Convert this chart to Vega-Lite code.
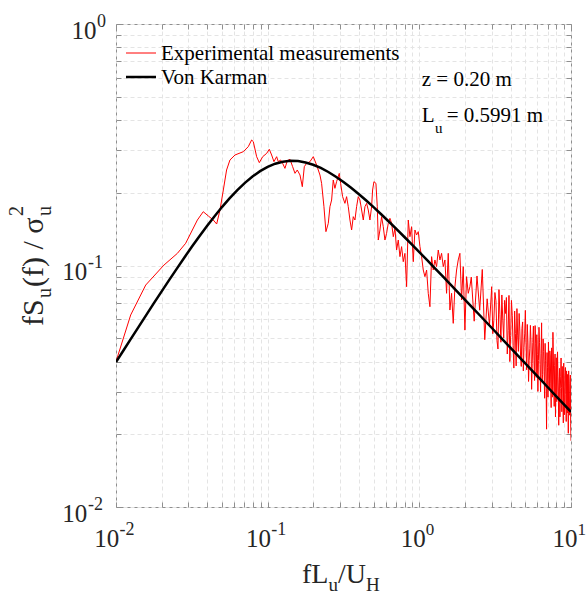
{
  "$schema": "https://vega.github.io/schema/vega-lite/v6.json",
  "width": 455,
  "height": 483,
  "autosize": {"type": "none"},
  "padding": {"left": 116, "top": 24, "right": 15, "bottom": 87},
  "background": "white",
  "config": {
    "view": {"stroke": "#8f8f8f", "strokeWidth": 1},
    "text": {"font": "Liberation Serif", "color": "#262626"}
  },
  "datasets": {
    "exp": [
      {"f":0.01,"s":0.040},{"f":0.0125,"s":0.0624},{"f":0.0157,"s":0.083},{"f":0.0207,"s":0.1004},{"f":0.0254,"s":0.1123},{"f":0.0288,"s":0.1236},{"f":0.0344,"s":0.1543},{"f":0.0376,"s":0.167},{"f":0.0408,"s":0.160},{"f":0.0438,"s":0.1543},{"f":0.0461,"s":0.1485},{"f":0.0485,"s":0.1698},{"f":0.051,"s":0.2054},{"f":0.0536,"s":0.2486},{"f":0.0564,"s":0.2734},{"f":0.0609,"s":0.2868},{"f":0.0691,"s":0.296},{"f":0.0745,"s":0.3105},{"f":0.0784,"s":0.3309},{"f":0.0804,"s":0.3257},{"f":0.0846,"s":0.2822},{"f":0.0881,"s":0.2666},{"f":0.0927,"s":0.2822},{"f":0.0985,"s":0.2913},{"f":0.1025,"s":0.3029},{"f":0.1062,"s":0.2868},{"f":0.11,"s":0.2692},{"f":0.1146,"s":0.2822},{"f":0.1175,"s":0.2692},{"f":0.1217,"s":0.2734},{"f":0.1255,"s":0.2648},{"f":0.13,"s":0.2525},{"f":0.1347,"s":0.2716},{"f":0.1403,"s":0.2752},{"f":0.1461,"s":0.2566},{"f":0.1514,"s":0.2408},{"f":0.1568,"s":0.2486},{"f":0.1633,"s":0.237},{"f":0.1692,"s":0.212},{"f":0.1744,"s":0.2566},{"f":0.1806,"s":0.2649},{"f":0.19,"s":0.2691},{"f":0.1999,"s":0.2823},{"f":0.2102,"s":0.2607},{"f":0.2212,"s":0.2369},{"f":0.2268,"s":0.2189},{"f":0.235,"s":0.1752},{"f":0.2422,"s":0.1381},{"f":0.251,"s":0.1495},{"f":0.2574,"s":0.1752},{"f":0.264,"s":0.1867},{"f":0.2707,"s":0.2259},{"f":0.2776,"s":0.2087},{"f":0.2847,"s":0.2224},{"f":0.2966,"s":0.2407},{"f":0.3027,"s":0.2189},{"f":0.312,"s":0.1928},{"f":0.3232,"s":0.1809},{"f":0.3315,"s":0.1928},{"f":0.34,"s":0.1752},{"f":0.3487,"s":0.1543},{"f":0.3577,"s":0.1403},{"f":0.3668,"s":0.1593},{"f":0.3762,"s":0.1543},{"f":0.3858,"s":0.1752},{"f":0.3957,"s":0.1928},{"f":0.4059,"s":0.1867},{"f":0.4163,"s":0.1698},{"f":0.427,"s":0.1543},{"f":0.4379,"s":0.1752},{"f":0.4491,"s":0.1809},{"f":0.4605,"s":0.1698},{"f":0.4723,"s":0.1543},{"f":0.4845,"s":0.1752},{"f":0.4919,"s":0.2054},{"f":0.5019,"s":0.2224},{"f":0.5174,"s":0.2189},{"f":0.528,"s":0.1752},{"f":0.5361,"s":0.1275},{"f":0.5499,"s":0.1403},{"f":0.5638,"s":0.1593},{"f":0.5783,"s":0.1448},{"f":0.5931,"s":0.1275},{"f":0.6083,"s":0.1359},{"f":0.624,"s":0.1495},
      {"f":0.64,"s":0.1568},{"f":0.6567,"s":0.1495},{"f":0.6734,"s":0.1316},{"f":0.6906,"s":0.1425},{"f":0.7081,"s":0.1159},{"f":0.7263,"s":0.1275},{"f":0.745,"s":0.1088},{"f":0.764,"s":0.1197},{"f":0.7835,"s":0.1037},{"f":0.8036,"s":0.1123},{"f":0.8242,"s":0.0817},{"f":0.8454,"s":0.1543},{"f":0.867,"s":0.1316},{"f":0.8892,"s":0.1448},{"f":0.912,"s":0.1037},{"f":0.9354,"s":0.1403},{"f":0.9594,"s":0.1338},{"f":0.984,"s":0.1381},{"f":1.0093,"s":0.1197},{"f":1.0351,"s":0.1088},{"f":1.0614,"s":0.0958},{"f":1.0887,"s":0.0899},{"f":1.1166,"s":0.0958},{"f":1.1452,"s":0.0767},{"f":1.1745,"s":0.0675},{"f":1.2046,"s":0.1088},{"f":1.2355,"s":0.0958},{"f":1.267,"s":0.1054},{"f":1.2995,"s":0.0989},{"f":1.3328,"s":0.1159},{"f":1.367,"s":0.1054},{"f":1.402,"s":0.1123},{"f":1.438,"s":0.0989},{"f":1.4749,"s":0.1054},{"f":1.5122,"s":0.0767},{"f":1.551,"s":0.1123},{"f":1.5908,"s":0.0654},{"f":1.6316,"s":0.0767},{"f":1.6734,"s":0.0576},{"f":1.7163,"s":0.0817},{"f":1.7603,"s":0.0958},{"f":1.805,"s":0.1054},{"f":1.8513,"s":0.1123},{"f":1.8988,"s":0.072},{"f":1.9475,"s":0.0989},{"f":1.9974,"s":0.054},{"f":2.0486,"s":0.0899},{"f":2.1012,"s":0.0767},{"f":2.155,"s":0.0817},
      {"f":2.2,"s":0.0895},{"f":2.3,"s":0.0588},{"f":2.4,"s":0.0905},{"f":2.5,"s":0.0653},{"f":2.6,"s":0.0963},{"f":2.7,"s":0.0493},{"f":2.8,"s":0.0728},{"f":2.9,"s":0.0565},{"f":3.0,"s":0.0817},{"f":3.05,"s":0.0522},{"f":3.1,"s":0.0593},{"f":3.15,"s":0.0773},{"f":3.2,"s":0.0714},{"f":3.25,"s":0.0489},{"f":3.3,"s":0.0451},{"f":3.35,"s":0.0795},{"f":3.4,"s":0.0625},{"f":3.45,"s":0.0481},{"f":3.5,"s":0.0755},{"f":3.55,"s":0.0594},{"f":3.6,"s":0.0501},{"f":3.65,"s":0.0717},{"f":3.7,"s":0.0633},{"f":3.75,"s":0.0737},{"f":3.8,"s":0.043},{"f":3.85,"s":0.0537},{"f":3.9,"s":0.0752},{"f":3.95,"s":0.04},{"f":4.0,"s":0.0512},{"f":4.05,"s":0.0717},{"f":4.1,"s":0.0619},{"f":4.15,"s":0.0466},{"f":4.2,"s":0.0376},{"f":4.25,"s":0.0648},{"f":4.3,"s":0.0522},{"f":4.35,"s":0.0384},{"f":4.4,"s":0.0663},{"f":4.45,"s":0.0511},{"f":4.5,"s":0.0441},{"f":4.55,"s":0.0633},{"f":4.6,"s":0.0535},{"f":4.65,"s":0.0422},{"f":4.7,"s":0.0382},{"f":4.75,"s":0.0548},{"f":4.8,"s":0.0584},{"f":4.85,"s":0.0366},{"f":4.9,"s":0.0457},{"f":4.95,"s":0.0521},{"f":5.0,"s":0.0652},{"f":5.05,"s":0.048},{"f":5.1,"s":0.037},{"f":5.15,"s":0.057},{"f":5.2,"s":0.0482},{"f":5.25,"s":0.0331},{"f":5.3,"s":0.0405},{"f":5.35,"s":0.0452},{"f":5.4,"s":0.0565},{"f":5.45,"s":0.0478},{"f":5.5,"s":0.0307},{"f":5.55,"s":0.0393},{"f":5.6,"s":0.048},{"f":5.65,"s":0.0561},{"f":5.7,"s":0.0404},{"f":5.75,"s":0.0334},{"f":5.8,"s":0.0564},{"f":5.85,"s":0.0477},{"f":5.9,"s":0.0344},{"f":5.95,"s":0.0517},{"f":6.0,"s":0.0428},{"f":6.05,"s":0.0301},{"f":6.1,"s":0.0405},{"f":6.15,"s":0.0555},{"f":6.2,"s":0.0481},{"f":6.25,"s":0.0389},{"f":6.3,"s":0.03},{"f":6.35,"s":0.0432},{"f":6.4,"s":0.0579},{"f":6.45,"s":0.0332},{"f":6.5,"s":0.0354},{"f":6.55,"s":0.0497},{"f":6.6,"s":0.0441},{"f":6.65,"s":0.0365},{"f":6.7,"s":0.0282},{"f":6.75,"s":0.0476},{"f":6.8,"s":0.0403},{"f":6.85,"s":0.0334},{"f":6.9,"s":0.021},{"f":6.95,"s":0.0436},{"f":7.0,"s":0.0378},{"f":7.05,"s":0.0285},{"f":7.1,"s":0.0482},{"f":7.15,"s":0.0381},{"f":7.2,"s":0.0308},{"f":7.25,"s":0.0443},{"f":7.3,"s":0.0422},{"f":7.35,"s":0.0326},{"f":7.4,"s":0.0258},{"f":7.45,"s":0.0456},{"f":7.5,"s":0.0386},{"f":7.55,"s":0.0285},{"f":7.6,"s":0.0529},{"f":7.65,"s":0.0418},{"f":7.7,"s":0.0323},{"f":7.75,"s":0.0261},{"f":7.8,"s":0.0385},{"f":7.85,"s":0.043},{"f":7.9,"s":0.0236},{"f":7.95,"s":0.0339},{"f":8.0,"s":0.0415},{"f":8.05,"s":0.0273},{"f":8.1,"s":0.0298},{"f":8.15,"s":0.0439},{"f":8.2,"s":0.0348},{"f":8.25,"s":0.0302},{"f":8.3,"s":0.0218},{"f":8.35,"s":0.0328},{"f":8.4,"s":0.0375},{"f":8.45,"s":0.0236},{"f":8.5,"s":0.031},{"f":8.55,"s":0.0346},{"f":8.6,"s":0.0414},{"f":8.65,"s":0.0313},{"f":8.7,"s":0.0248},{"f":8.75,"s":0.0382},{"f":8.8,"s":0.0339},{"f":8.85,"s":0.0294},{"f":8.9,"s":0.0223},{"f":8.95,"s":0.0394},{"f":9.0,"s":0.035},{"f":9.05,"s":0.0241},{"f":9.1,"s":0.027},{"f":9.15,"s":0.0354},{"f":9.2,"s":0.0378},{"f":9.25,"s":0.0292},{"f":9.3,"s":0.0226},{"f":9.35,"s":0.0366},{"f":9.4,"s":0.031},{"f":9.45,"s":0.0245},{"f":9.5,"s":0.0354},{"f":9.55,"s":0.0293},{"f":9.6,"s":0.0202},{"f":9.65,"s":0.0366},{"f":9.7,"s":0.0325},{"f":9.75,"s":0.027},{"f":9.8,"s":0.024},{"f":9.85,"s":0.033},{"f":9.9,"s":0.0352},{"f":9.95,"s":0.0221},{"f":10.0,"s":0.0188}
    ],
    "vk": [
      {"f":0.01,"s":0.03978},{"f":0.01122,"s":0.04456},{"f":0.01259,"s":0.0499},{"f":0.01413,"s":0.05585},{"f":0.01585,"s":0.06247},{"f":0.01778,"s":0.06982},{"f":0.01995,"s":0.07798},{"f":0.02239,"s":0.08699},{"f":0.02512,"s":0.09688},{"f":0.02818,"s":0.10771},{"f":0.03162,"s":0.11953},{"f":0.03548,"s":0.13218},{"f":0.03981,"s":0.14574},{"f":0.04467,"s":0.16004},{"f":0.05012,"s":0.17497},{"f":0.05623,"s":0.19008},{"f":0.0631,"s":0.20518},{"f":0.07079,"s":0.21985},{"f":0.07943,"s":0.23355},{"f":0.08913,"s":0.24584},{"f":0.1,"s":0.25608},{"f":0.1122,"s":0.26393},{"f":0.1259,"s":0.26904},{"f":0.1413,"s":0.27125},{"f":0.1585,"s":0.27057},{"f":0.1778,"s":0.26717},{"f":0.1995,"s":0.26134},{"f":0.2239,"s":0.25346},{"f":0.2512,"s":0.24396},{"f":0.2818,"s":0.23323},{"f":0.3162,"s":0.22176},{"f":0.3548,"s":0.20985},{"f":0.3981,"s":0.19781},{"f":0.4467,"s":0.18579},{"f":0.5012,"s":0.17407},{"f":0.5623,"s":0.16262},{"f":0.631,"s":0.15178},{"f":0.7079,"s":0.14132},{"f":0.7943,"s":0.13154},{"f":0.8913,"s":0.12228},{"f":1,"s":0.11359},{"f":1.122,"s":0.10544},{"f":1.259,"s":0.09784},{"f":1.413,"s":0.09076},{"f":1.585,"s":0.08415},{"f":1.778,"s":0.07799},{"f":1.995,"s":0.07228},{"f":2.239,"s":0.06699},{"f":2.512,"s":0.06208},{"f":2.818,"s":0.05752},{"f":3.162,"s":0.05329},{"f":3.548,"s":0.04936},{"f":3.981,"s":0.04572},{"f":4.467,"s":0.04234},{"f":5.012,"s":0.03922},{"f":5.623,"s":0.03633},{"f":6.31,"s":0.03365},{"f":7.079,"s":0.03117},{"f":7.943,"s":0.02887},{"f":8.913,"s":0.02673},{"f":10,"s":0.02476}
    ],
    "xt1": [{"v":0.01,"b":"10","e":"-2"},{"v":0.1,"b":"10","e":"-1"}],
    "xt2": [{"v":1,"b":"10","e":"0"},{"v":10,"b":"10","e":"1"}],
    "yt1": [{"v":0.01,"b":"10","e":"-2"},{"v":0.1,"b":"10","e":"-1"}],
    "yt2": [{"v":1,"b":"10","e":"0"}]
  },
  "layer": [
    {
      "data": {"name": "exp"},
      "mark": {"type": "line", "color": "#ff0000", "strokeWidth": 1, "clip": true},
      "encoding": {
        "x": {"field": "f", "type": "quantitative", "scale": {"type": "log", "domain": [0.01, 10], "nice": false},
          "axis": {"orient": "bottom", "values": [0.01,0.02,0.03,0.04,0.05,0.06,0.07,0.08,0.09,0.1,0.2,0.3,0.4,0.5,0.6,0.7,0.8,0.9,1,2,3,4,5,6,7,8,9,10],
            "labels": false, "title": null, "domain": false, "grid": true, "gridColor": "#e4e4e4", "gridDash": [4, 3], "gridWidth": 1,
            "ticks": true, "tickSize": -5, "tickColor": "#8f8f8f"}},
        "y": {"field": "s", "type": "quantitative", "scale": {"type": "log", "domain": [0.01, 1], "nice": false},
          "axis": {"orient": "left", "values": [0.01,0.02,0.03,0.04,0.05,0.06,0.07,0.08,0.09,0.1,0.2,0.3,0.4,0.5,0.6,0.7,0.8,0.9,1],
            "labels": false, "title": null, "domain": false, "grid": true, "gridColor": "#e4e4e4", "gridDash": [4, 3], "gridWidth": 1,
            "ticks": true, "tickSize": -5, "tickColor": "#8f8f8f"}}
      }
    },
    {
      "data": {"name": "vk"},
      "mark": {"type": "line", "color": "#000000", "strokeWidth": 2.5, "clip": true},
      "encoding": {
        "x": {"field": "f", "type": "quantitative", "scale": {"type": "log", "domain": [0.01, 10], "nice": false},
          "axis": {"orient": "top", "values": [0.01,0.02,0.03,0.04,0.05,0.06,0.07,0.08,0.09,0.1,0.2,0.3,0.4,0.5,0.6,0.7,0.8,0.9,1,2,3,4,5,6,7,8,9,10],
            "labels": false, "title": null, "domain": false, "grid": false, "ticks": true, "tickSize": -5, "tickColor": "#8f8f8f"}},
        "y": {"field": "s", "type": "quantitative", "scale": {"type": "log", "domain": [0.01, 1], "nice": false},
          "axis": {"orient": "right", "values": [0.01,0.02,0.03,0.04,0.05,0.06,0.07,0.08,0.09,0.1,0.2,0.3,0.4,0.5,0.6,0.7,0.8,0.9,1],
            "labels": false, "title": null, "domain": false, "grid": false, "ticks": true, "tickSize": -5, "tickColor": "#8f8f8f"}}
      }
    },
    {
      "data": {"values": [{"t": "Experimental measurements"}]},
      "mark": {"type": "rule", "color": "#ff0000", "strokeWidth": 1, "xOffset": 10, "x2Offset": 40, "yOffset": 29},
      "encoding": {
        "x": {"datum": 0.01, "type": "quantitative", "scale": {"type": "log", "domain": [0.01, 10], "nice": false}, "axis": null},
        "x2": {"datum": 0.01},
        "y": {"datum": 1, "type": "quantitative", "scale": {"type": "log", "domain": [0.01, 1], "nice": false}, "axis": null}
      }
    },
    {
      "data": {"values": [{"t": "Von Karman"}]},
      "mark": {"type": "rule", "color": "#000000", "strokeWidth": 2.5, "xOffset": 10, "x2Offset": 40, "yOffset": 53},
      "encoding": {
        "x": {"datum": 0.01, "type": "quantitative", "scale": {"type": "log", "domain": [0.01, 10], "nice": false}, "axis": null},
        "x2": {"datum": 0.01},
        "y": {"datum": 1, "type": "quantitative", "scale": {"type": "log", "domain": [0.01, 1], "nice": false}, "axis": null}
      }
    },
    {
      "data": {"values": [{"t": "Experimental measurements"}]},
      "mark": {"type": "text", "align": "left", "baseline": "alphabetic", "dx": 45, "dy": 36, "fontSize": 21, "color": "#000000"},
      "encoding": {
        "x": {"datum": 0.01, "type": "quantitative", "scale": {"type": "log", "domain": [0.01, 10], "nice": false}, "axis": null},
        "y": {"datum": 1, "type": "quantitative", "scale": {"type": "log", "domain": [0.01, 1], "nice": false}, "axis": null},
        "text": {"field": "t"}
      }
    },
    {
      "data": {"values": [{"t": "Von Karman"}]},
      "mark": {"type": "text", "align": "left", "baseline": "alphabetic", "dx": 45, "dy": 60, "fontSize": 21, "color": "#000000"},
      "encoding": {
        "x": {"datum": 0.01, "type": "quantitative", "scale": {"type": "log", "domain": [0.01, 10], "nice": false}, "axis": null},
        "y": {"datum": 1, "type": "quantitative", "scale": {"type": "log", "domain": [0.01, 1], "nice": false}, "axis": null},
        "text": {"field": "t"}
      }
    },
    {
      "data": {"values": [{"t": "z = 0.20 m"}]},
      "mark": {"type": "text", "align": "left", "baseline": "alphabetic", "dx": 2.4, "dy": 62, "fontSize": 21, "color": "#000000"},
      "encoding": {
        "x": {"datum": 1, "type": "quantitative", "scale": {"type": "log", "domain": [0.01, 10], "nice": false}, "axis": null},
        "y": {"datum": 1, "type": "quantitative", "scale": {"type": "log", "domain": [0.01, 1], "nice": false}, "axis": null},
        "text": {"field": "t"}
      }
    },
    {
      "data": {"values": [{"t": "L"}]},
      "mark": {"type": "text", "align": "left", "baseline": "alphabetic", "dx": 2.4, "dy": 98, "fontSize": 21, "color": "#000000"},
      "encoding": {
        "x": {"datum": 1, "type": "quantitative", "scale": {"type": "log", "domain": [0.01, 10], "nice": false}, "axis": null},
        "y": {"datum": 1, "type": "quantitative", "scale": {"type": "log", "domain": [0.01, 1], "nice": false}, "axis": null},
        "text": {"field": "t"}
      }
    },
    {
      "data": {"values": [{"t": "u"}]},
      "mark": {"type": "text", "align": "left", "baseline": "alphabetic", "dx": 15.7, "dy": 109, "fontSize": 15, "color": "#000000"},
      "encoding": {
        "x": {"datum": 1, "type": "quantitative", "scale": {"type": "log", "domain": [0.01, 10], "nice": false}, "axis": null},
        "y": {"datum": 1, "type": "quantitative", "scale": {"type": "log", "domain": [0.01, 1], "nice": false}, "axis": null},
        "text": {"field": "t"}
      }
    },
    {
      "data": {"values": [{"t": "= 0.5991 m"}]},
      "mark": {"type": "text", "align": "left", "baseline": "alphabetic", "dx": 27.4, "dy": 98, "fontSize": 21, "color": "#000000"},
      "encoding": {
        "x": {"datum": 1, "type": "quantitative", "scale": {"type": "log", "domain": [0.01, 10], "nice": false}, "axis": null},
        "y": {"datum": 1, "type": "quantitative", "scale": {"type": "log", "domain": [0.01, 1], "nice": false}, "axis": null},
        "text": {"field": "t"}
      }
    },
    {
      "data": {"name": "xt1"},
      "mark": {"type": "text", "align": "right", "baseline": "alphabetic", "dx": 3.3, "dy": 40, "fontSize": 25},
      "encoding": {
        "x": {"field": "v", "type": "quantitative", "scale": {"type": "log", "domain": [0.01, 10], "nice": false}, "axis": null},
        "y": {"datum": 0.01, "type": "quantitative", "scale": {"type": "log", "domain": [0.01, 1], "nice": false}, "axis": null},
        "text": {"field": "b"}
      }
    },
    {
      "data": {"name": "xt1"},
      "mark": {"type": "text", "align": "left", "baseline": "alphabetic", "dx": 3.5, "dy": 28, "fontSize": 18},
      "encoding": {
        "x": {"field": "v", "type": "quantitative", "scale": {"type": "log", "domain": [0.01, 10], "nice": false}, "axis": null},
        "y": {"datum": 0.01, "type": "quantitative", "scale": {"type": "log", "domain": [0.01, 1], "nice": false}, "axis": null},
        "text": {"field": "e"}
      }
    },
    {
      "data": {"name": "xt2"},
      "mark": {"type": "text", "align": "right", "baseline": "alphabetic", "dx": 6.5, "dy": 40, "fontSize": 25},
      "encoding": {
        "x": {"field": "v", "type": "quantitative", "scale": {"type": "log", "domain": [0.01, 10], "nice": false}, "axis": null},
        "y": {"datum": 0.01, "type": "quantitative", "scale": {"type": "log", "domain": [0.01, 1], "nice": false}, "axis": null},
        "text": {"field": "b"}
      }
    },
    {
      "data": {"name": "xt2"},
      "mark": {"type": "text", "align": "left", "baseline": "alphabetic", "dx": 6.5, "dy": 28, "fontSize": 17},
      "encoding": {
        "x": {"field": "v", "type": "quantitative", "scale": {"type": "log", "domain": [0.01, 10], "nice": false}, "axis": null},
        "y": {"datum": 0.01, "type": "quantitative", "scale": {"type": "log", "domain": [0.01, 1], "nice": false}, "axis": null},
        "text": {"field": "e"}
      }
    },
    {
      "data": {"name": "yt1"},
      "mark": {"type": "text", "align": "right", "baseline": "alphabetic", "dx": -28.7, "dy": 14.5, "fontSize": 25},
      "encoding": {
        "x": {"datum": 0.01, "type": "quantitative", "scale": {"type": "log", "domain": [0.01, 10], "nice": false}, "axis": null},
        "y": {"field": "v", "type": "quantitative", "scale": {"type": "log", "domain": [0.01, 1], "nice": false}, "axis": null},
        "text": {"field": "b"}
      }
    },
    {
      "data": {"name": "yt1"},
      "mark": {"type": "text", "align": "left", "baseline": "alphabetic", "dx": -28, "dy": 2.5, "fontSize": 18},
      "encoding": {
        "x": {"datum": 0.01, "type": "quantitative", "scale": {"type": "log", "domain": [0.01, 10], "nice": false}, "axis": null},
        "y": {"field": "v", "type": "quantitative", "scale": {"type": "log", "domain": [0.01, 1], "nice": false}, "axis": null},
        "text": {"field": "e"}
      }
    },
    {
      "data": {"name": "yt2"},
      "mark": {"type": "text", "align": "right", "baseline": "alphabetic", "dx": -19.5, "dy": 14.5, "fontSize": 25},
      "encoding": {
        "x": {"datum": 0.01, "type": "quantitative", "scale": {"type": "log", "domain": [0.01, 10], "nice": false}, "axis": null},
        "y": {"field": "v", "type": "quantitative", "scale": {"type": "log", "domain": [0.01, 1], "nice": false}, "axis": null},
        "text": {"field": "b"}
      }
    },
    {
      "data": {"name": "yt2"},
      "mark": {"type": "text", "align": "left", "baseline": "alphabetic", "dx": -19, "dy": 2.5, "fontSize": 18},
      "encoding": {
        "x": {"datum": 0.01, "type": "quantitative", "scale": {"type": "log", "domain": [0.01, 10], "nice": false}, "axis": null},
        "y": {"field": "v", "type": "quantitative", "scale": {"type": "log", "domain": [0.01, 1], "nice": false}, "axis": null},
        "text": {"field": "e"}
      }
    },
    {
      "data": {"values": [{"t": "fL"}]},
      "mark": {"type": "text", "align": "left", "baseline": "alphabetic", "dx": -41.5, "dy": 76, "fontSize": 28},
      "encoding": {
        "x": {"datum": 0.316, "type": "quantitative", "scale": {"type": "log", "domain": [0.01, 10], "nice": false}, "axis": null},
        "y": {"datum": 0.01, "type": "quantitative", "scale": {"type": "log", "domain": [0.01, 1], "nice": false}, "axis": null},
        "text": {"field": "t"}
      }
    },
    {
      "data": {"values": [{"t": "u"}]},
      "mark": {"type": "text", "align": "left", "baseline": "alphabetic", "dx": -15, "dy": 84, "fontSize": 19},
      "encoding": {
        "x": {"datum": 0.316, "type": "quantitative", "scale": {"type": "log", "domain": [0.01, 10], "nice": false}, "axis": null},
        "y": {"datum": 0.01, "type": "quantitative", "scale": {"type": "log", "domain": [0.01, 1], "nice": false}, "axis": null},
        "text": {"field": "t"}
      }
    },
    {
      "data": {"values": [{"t": "/U"}]},
      "mark": {"type": "text", "align": "left", "baseline": "alphabetic", "dx": -5.5, "dy": 76, "fontSize": 28},
      "encoding": {
        "x": {"datum": 0.316, "type": "quantitative", "scale": {"type": "log", "domain": [0.01, 10], "nice": false}, "axis": null},
        "y": {"datum": 0.01, "type": "quantitative", "scale": {"type": "log", "domain": [0.01, 1], "nice": false}, "axis": null},
        "text": {"field": "t"}
      }
    },
    {
      "data": {"values": [{"t": "H"}]},
      "mark": {"type": "text", "align": "left", "baseline": "alphabetic", "dx": 22.5, "dy": 84, "fontSize": 19},
      "encoding": {
        "x": {"datum": 0.316, "type": "quantitative", "scale": {"type": "log", "domain": [0.01, 10], "nice": false}, "axis": null},
        "y": {"datum": 0.01, "type": "quantitative", "scale": {"type": "log", "domain": [0.01, 1], "nice": false}, "axis": null},
        "text": {"field": "t"}
      }
    },
    {
      "data": {"values": [{"t": "fS"}]},
      "mark": {"type": "text", "align": "left", "baseline": "alphabetic", "angle": 270, "dx": -60.5, "dy": -73, "fontSize": 30},
      "encoding": {
        "x": {"datum": 0.01, "type": "quantitative", "scale": {"type": "log", "domain": [0.01, 10], "nice": false}, "axis": null},
        "y": {"datum": 0.1, "type": "quantitative", "scale": {"type": "log", "domain": [0.01, 1], "nice": false}, "axis": null},
        "text": {"field": "t"}
      }
    },
    {
      "data": {"values": [{"t": "u"}]},
      "mark": {"type": "text", "align": "left", "baseline": "alphabetic", "angle": 270, "dx": -32.5, "dy": -65, "fontSize": 20},
      "encoding": {
        "x": {"datum": 0.01, "type": "quantitative", "scale": {"type": "log", "domain": [0.01, 10], "nice": false}, "axis": null},
        "y": {"datum": 0.1, "type": "quantitative", "scale": {"type": "log", "domain": [0.01, 1], "nice": false}, "axis": null},
        "text": {"field": "t"}
      }
    },
    {
      "data": {"values": [{"t": "(f) / σ"}]},
      "mark": {"type": "text", "align": "left", "baseline": "alphabetic", "angle": 270, "dx": -21.5, "dy": -73, "fontSize": 30},
      "encoding": {
        "x": {"datum": 0.01, "type": "quantitative", "scale": {"type": "log", "domain": [0.01, 10], "nice": false}, "axis": null},
        "y": {"datum": 0.1, "type": "quantitative", "scale": {"type": "log", "domain": [0.01, 1], "nice": false}, "axis": null},
        "text": {"field": "t"}
      }
    },
    {
      "data": {"values": [{"t": "2"}]},
      "mark": {"type": "text", "align": "left", "baseline": "alphabetic", "angle": 270, "dx": 49.5, "dy": -93, "fontSize": 20},
      "encoding": {
        "x": {"datum": 0.01, "type": "quantitative", "scale": {"type": "log", "domain": [0.01, 10], "nice": false}, "axis": null},
        "y": {"datum": 0.1, "type": "quantitative", "scale": {"type": "log", "domain": [0.01, 1], "nice": false}, "axis": null},
        "text": {"field": "t"}
      }
    },
    {
      "data": {"values": [{"t": "u"}]},
      "mark": {"type": "text", "align": "left", "baseline": "alphabetic", "angle": 270, "dx": 49.5, "dy": -65, "fontSize": 20},
      "encoding": {
        "x": {"datum": 0.01, "type": "quantitative", "scale": {"type": "log", "domain": [0.01, 10], "nice": false}, "axis": null},
        "y": {"datum": 0.1, "type": "quantitative", "scale": {"type": "log", "domain": [0.01, 1], "nice": false}, "axis": null},
        "text": {"field": "t"}
      }
    }
  ],
  "resolve": {"axis": {"x": "independent", "y": "independent"}}
}
